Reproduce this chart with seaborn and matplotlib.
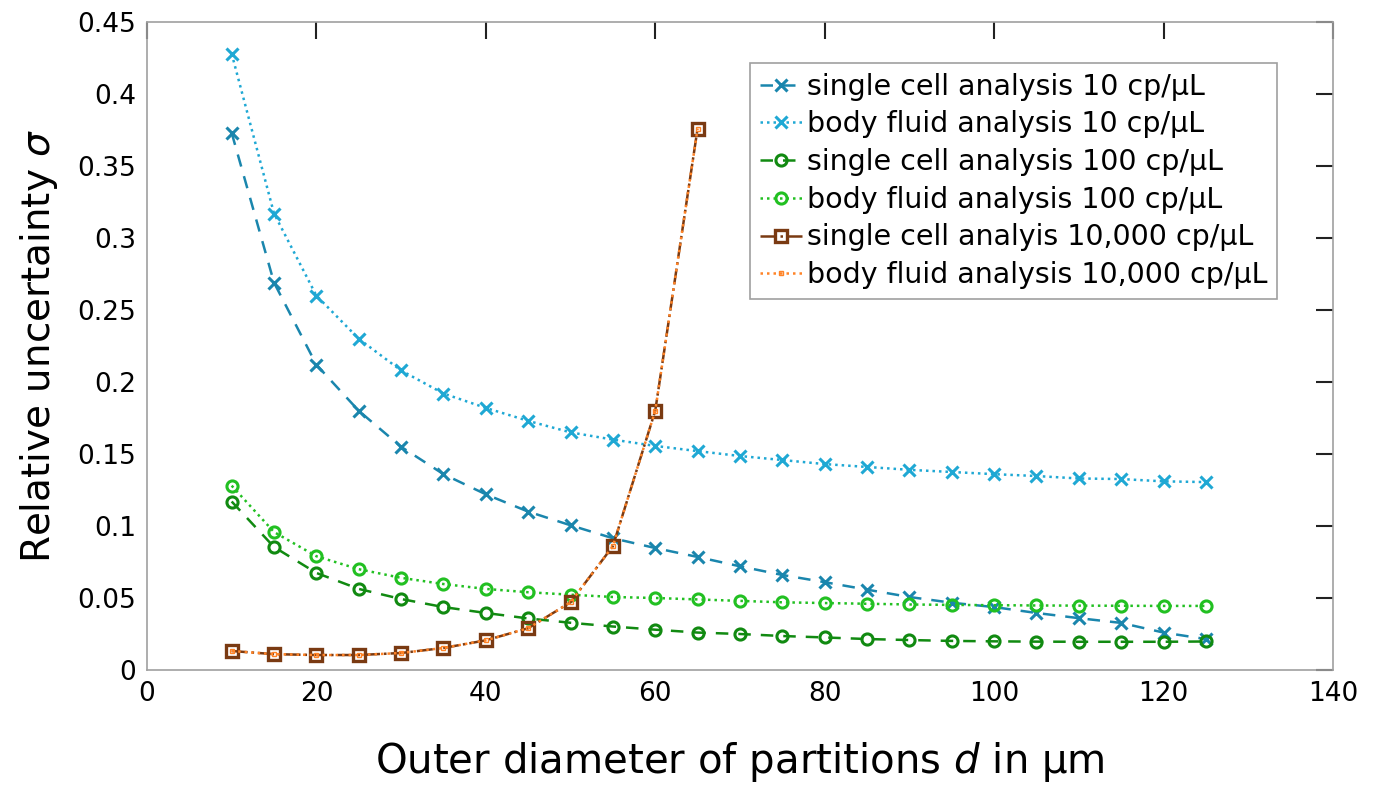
import matplotlib
matplotlib.use("Agg")
import matplotlib.pyplot as plt
import numpy as np
import pandas as pd
import seaborn as sns

sns.set_theme(style="white")
plt.rcParams["font.family"] = ["DejaVu Sans"]
plt.rcParams["mathtext.fontset"] = "dejavusans"
plt.rcParams["text.color"] = "black"
plt.rcParams["axes.labelcolor"] = "black"
plt.rcParams["xtick.color"] = "black"
plt.rcParams["ytick.color"] = "black"

# outer diameter d in um
d_long = [10, 15, 20, 25, 30, 35, 40, 45, 50, 55, 60, 65,
          70, 75, 80, 85, 90, 95, 100, 105, 110, 115, 120, 125]
d_short = [10, 15, 20, 25, 30, 35, 40, 45, 50, 55, 60, 65]

sc_10 = [0.373, 0.269, 0.212, 0.180, 0.155, 0.136, 0.122, 0.110, 0.1005, 0.0915, 0.0847, 0.0785,
         0.072, 0.066, 0.061, 0.0558, 0.0507, 0.0467, 0.0437, 0.0396, 0.036, 0.0327, 0.026, 0.0215]
bf_10 = [0.428, 0.317, 0.260, 0.230, 0.208, 0.192, 0.182, 0.173, 0.165, 0.160, 0.1556, 0.152,
         0.1486, 0.1458, 0.143, 0.141, 0.139, 0.1375, 0.136, 0.1347, 0.133, 0.1326, 0.131, 0.1305]
sc_100 = [0.117, 0.0854, 0.0674, 0.0563, 0.0493, 0.0437, 0.0396, 0.0358, 0.0328, 0.0302, 0.028, 0.026,
          0.025, 0.0236, 0.0226, 0.0215, 0.0208, 0.0202, 0.0199, 0.0197, 0.0196, 0.0196, 0.0196, 0.0198]
bf_100 = [0.128, 0.0958, 0.079, 0.070, 0.064, 0.0597, 0.0563, 0.054, 0.0523, 0.0507, 0.050, 0.049,
          0.048, 0.047, 0.0465, 0.046, 0.0455, 0.0452, 0.045, 0.0448, 0.0447, 0.0446, 0.0445, 0.0445]
sc_10000 = [0.0132, 0.011, 0.0104, 0.0104, 0.0118, 0.0153, 0.0206, 0.029, 0.047, 0.086, 0.180, 0.376]
bf_10000 = [0.0132, 0.011, 0.0104, 0.0104, 0.0118, 0.0153, 0.0206, 0.029, 0.047, 0.086, 0.180, 0.376]

labels = ["single cell analysis 10 cp/µL",
          "body fluid analysis 10 cp/µL",
          "single cell analysis 100 cp/µL",
          "body fluid analysis 100 cp/µL",
          "single cell analyis 10,000 cp/µL",
          "body fluid analysis 10,000 cp/µL"]

# x, y, colour, linestyle, marker, markersize, edgewidth, zorder
series = [
    (d_long, sc_10, "#1a86ad", (0, (5, 4)), "x", 8, 2.2, 3),
    (d_long, bf_10, "#1fa8d4", (0, (1, 1.6)), "x", 8, 2.2, 3),
    (d_long, sc_100, "#118a11", (0, (5, 4)), "o", 8, 2.2, 3),
    (d_long, bf_100, "#22c022", (0, (1, 1.6)), "o", 8, 2.2, 3),
    (d_short, sc_10000, "#7a3a12", "-.", "s", 9, 2.4, 3),
    (d_short, bf_10000, "#ff8326", (0, (1, 1.6)), "s", 3.5, 1.0, 4),
]

fig = plt.figure(figsize=(13.76, 7.85), dpi=100)
ax = fig.add_axes([0.1068, 0.1465, 0.8619, 0.8255])

for (x, y, col, ls, mk, ms, mew, z), lab in zip(series, labels):
    df = pd.DataFrame({"d": x, "sigma": y})
    sns.lineplot(data=df, x="d", y="sigma", ax=ax, color=col, linestyle=ls,
                 linewidth=1.8, marker=mk, markersize=ms,
                 markerfacecolor="none" if mk != "x" else col,
                 markeredgecolor=col, markeredgewidth=mew, label=lab, zorder=z)

ax.set_xlim(0, 140)
ax.set_ylim(0, 0.45)
ax.set_xticks(np.arange(0, 141, 20))
ax.set_yticks(np.arange(0, 0.451, 0.05))
ax.set_yticklabels(["0", "0.05", "0.1", "0.15", "0.2", "0.25", "0.3", "0.35", "0.4", "0.45"])
ax.tick_params(direction="in", length=12, width=1.5, labelsize=19, color="#222222",
               top=True, right=True, pad=8)
for s in ax.spines.values():
    s.set_color("#a0a0a0")
    s.set_linewidth(1.2)

ax.set_xlabel("Outer diameter of partitions $d$ in µm", fontsize=29, labelpad=24)
ax.set_ylabel("Relative uncertainty $\\sigma$", fontsize=28, labelpad=12)

leg = ax.legend(loc="upper right", bbox_to_anchor=(0.953, 0.937), fontsize=20.5,
                frameon=True, fancybox=False, edgecolor="#a0a0a0", framealpha=1,
                handlelength=1.5, handletextpad=0.15, labelspacing=0.34,
                borderpad=0.35, borderaxespad=0)
leg.get_frame().set_linewidth(1.2)

fig.savefig("out.png", dpi=100)
